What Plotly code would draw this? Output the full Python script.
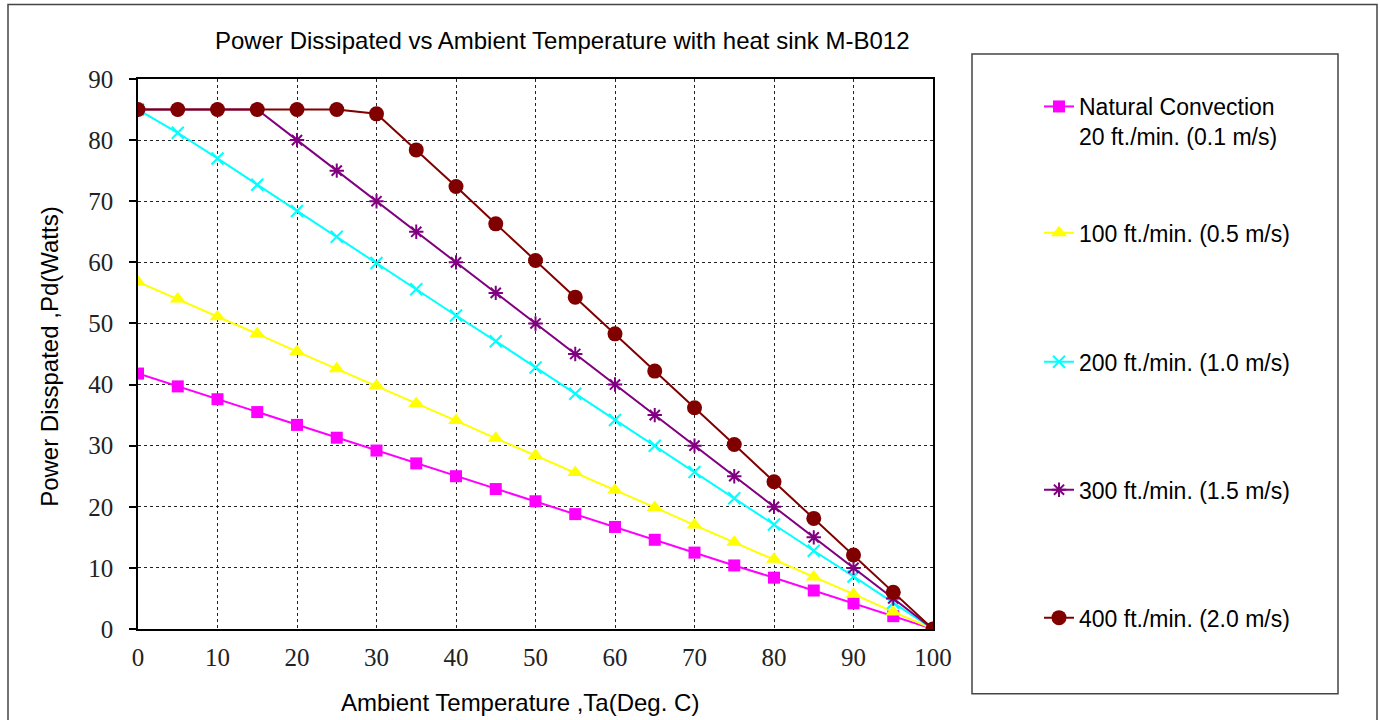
import plotly.graph_objects as go

# ---------------- data ----------------
temps = [0, 5, 10, 15, 20, 25, 30, 35, 40, 45, 50, 55, 60, 65, 70, 75, 80, 85, 90, 95, 100]

natural = [41.8, 39.7, 37.6, 35.5, 33.4, 31.3, 29.2, 27.1, 25.0, 22.9, 20.9,
           18.8, 16.7, 14.6, 12.5, 10.4, 8.4, 6.3, 4.2, 2.1, 0.0]
ft100 = [56.8, 54.0, 51.1, 48.3, 45.4, 42.6, 39.8, 36.9, 34.1, 31.2, 28.4,
         25.6, 22.7, 19.9, 17.0, 14.2, 11.4, 8.5, 5.7, 2.8, 0.0]
ft200 = [85.0, 81.2, 77.0, 72.7, 68.4, 64.2, 59.9, 55.6, 51.3, 47.1, 42.8,
         38.5, 34.2, 30.0, 25.7, 21.4, 17.1, 12.8, 8.6, 4.3, 0.0]
ft300 = [85.0, 85.0, 85.0, 85.0, 80.0, 75.0, 70.0, 65.0, 60.0, 55.0, 50.0,
         45.0, 40.0, 35.0, 30.0, 25.0, 20.0, 15.0, 10.0, 5.0, 0.0]
ft400 = [85.0, 85.0, 85.0, 85.0, 85.0, 85.0, 84.3, 78.4, 72.4, 66.3, 60.3,
         54.3, 48.3, 42.2, 36.2, 30.2, 24.1, 18.1, 12.1, 6.0, 0.0]

series_names = [
    "Natural Convection<br>20 ft./min. (0.1 m/s)",
    "100 ft./min. (0.5 m/s)",
    "200 ft./min. (1.0 m/s)",
    "300 ft./min. (1.5 m/s)",
    "400 ft./min. (2.0 m/s)",
]
series_values = [natural, ft100, ft200, ft300, ft400]

x_ticks = [0, 10, 20, 30, 40, 50, 60, 70, 80, 90, 100]
y_ticks = [0, 10, 20, 30, 40, 50, 60, 70, 80, 90]

title_text = "Power Dissipated vs Ambient Temperature with heat sink M-B012"
x_title = "Ambient Temperature ,Ta(Deg. C)"
y_title = "Power Disspated ,Pd(Watts)"

# ---------------- styles ----------------
colors = ["#FF00FF", "#FFFF00", "#00FFFF", "#800080", "#800000"]
symbols = ["square", "triangle-up", "x-thin", "asterisk", "circle"]
msizes = [12, 14, 12, 12, 15]

W, H = 1380, 720
PL, PR, PT, PB = 138, 933, 79, 629.3  # plot area in px


def px_x(px):
    return (px - PL) / (PR - PL)


def px_y(py):
    return (PB - py) / (PB - PT)


fig = go.Figure()
for i, (name, vals) in enumerate(zip(series_names, series_values)):
    sym = symbols[i]
    if sym in ("x-thin", "asterisk"):
        marker = dict(symbol=sym, size=msizes[i], color=colors[i],
                      line=dict(color=colors[i], width=2))
    else:
        marker = dict(symbol=sym, size=msizes[i], color=colors[i],
                      line=dict(width=0))
    lg = "legend" if i == 0 else f"legend{i + 1}"
    fig.add_trace(go.Scatter(
        x=temps, y=vals, name=name, mode="lines+markers",
        line=dict(color=colors[i], width=2), marker=marker,
        legend=lg,
    ))

legend_pos = [85, 233, 362, 490, 618]
for i, cy in enumerate(legend_pos):
    key = "legend" if i == 0 else f"legend{i + 1}"
    fig.update_layout(**{key: dict(
        x=px_x(1039), y=px_y(cy), xanchor="left",
        yanchor="top" if i == 0 else "middle",
        bgcolor="rgba(0,0,0,0)", borderwidth=0,
        font=dict(family="Liberation Sans, Arial", size=23, color="black"),
        valign="top" if i == 0 else "middle",
        itemclick=False, itemdoubleclick=False,
    )})

axis_common = dict(
    showgrid=True, gridcolor="#222", griddash="dot", gridwidth=1,
    showline=True, linecolor="black", linewidth=1.5, mirror=True,
    zeroline=False,
    tickfont=dict(family="Liberation Serif, Times New Roman", size=25, color="#222"),
)

fig.update_layout(
    width=W, height=H,
    margin=dict(l=PL, r=W - PR, t=PT, b=H - PB),
    paper_bgcolor="white", plot_bgcolor="white",
    showlegend=True,
    xaxis=dict(range=[0, 100], tickvals=x_ticks, ticks="", ticklabelstandoff=5,
               **axis_common),
    yaxis=dict(range=[0, 90], tickvals=y_ticks, ticks="outside", ticklen=7,
               tickcolor="black", tickwidth=1.5, ticklabelstandoff=11,
               **axis_common),
)

# outer frame and legend box
fig.add_shape(type="rect", xref="paper", yref="paper",
              x0=px_x(8), x1=px_x(1377), y0=px_y(722), y1=px_y(4.5),
              line=dict(color="#444", width=1.5), fillcolor="rgba(0,0,0,0)", layer="below")
fig.add_shape(type="rect", xref="paper", yref="paper",
              x0=px_x(972), x1=px_x(1338), y0=px_y(694), y1=px_y(54),
              line=dict(color="#444", width=1.5), fillcolor="rgba(0,0,0,0)", layer="below")

txt_font = dict(family="Liberation Sans, Arial", size=24, color="black")
fig.add_annotation(text=title_text, xref="paper", yref="paper",
                   x=px_x(562), y=px_y(40), showarrow=False, font=txt_font,
                   xanchor="center", yanchor="middle")
fig.add_annotation(text=x_title, xref="paper", yref="paper",
                   x=px_x(520), y=px_y(703), showarrow=False, font=txt_font,
                   xanchor="center", yanchor="middle")
fig.add_annotation(text=y_title, xref="paper", yref="paper",
                   x=px_x(50), y=px_y(357), showarrow=False, font=txt_font,
                   textangle=-90, xanchor="center", yanchor="middle")

fig.write_html("out.html")
